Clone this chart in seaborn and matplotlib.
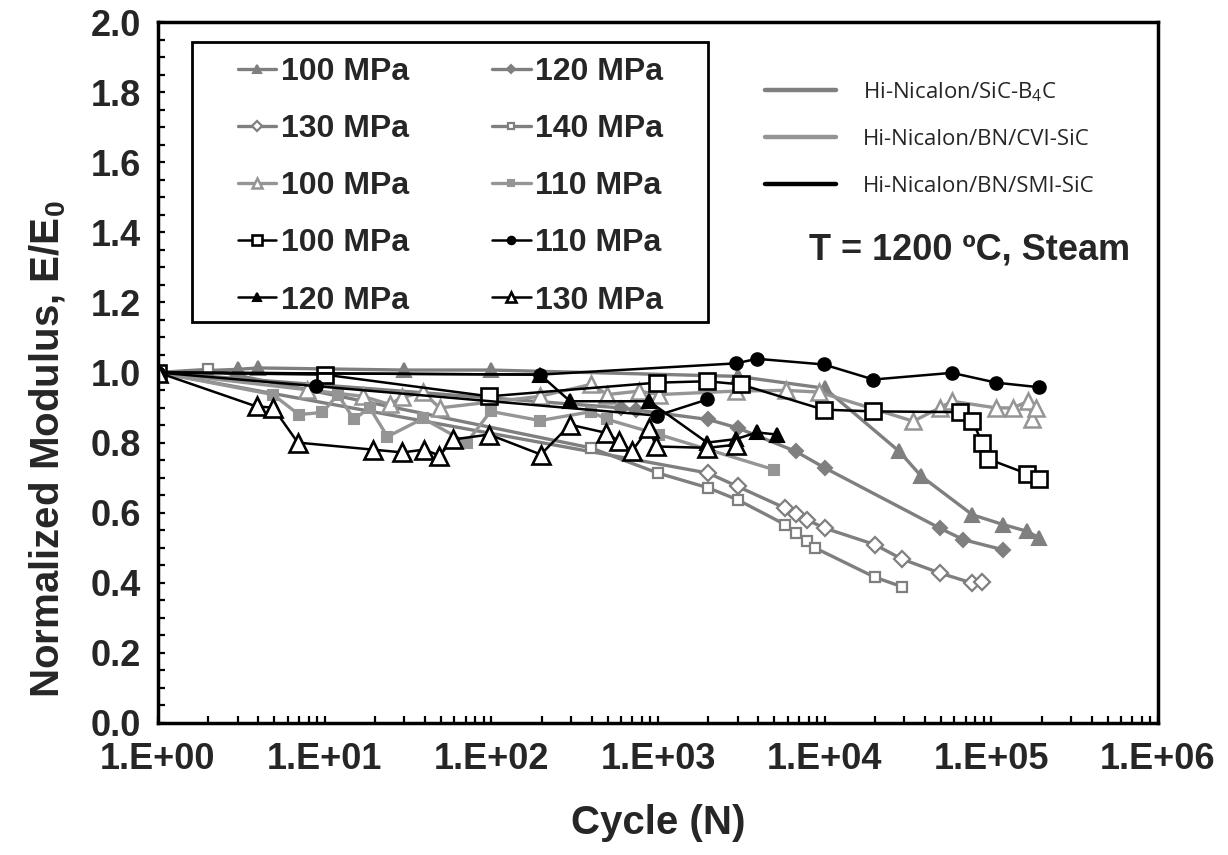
import numpy as np
import matplotlib
matplotlib.use("Agg")
import matplotlib.pyplot as plt
import matplotlib.ticker as mticker
from matplotlib.lines import Line2D
from matplotlib.patches import Rectangle
import seaborn as sns

sns.set_theme(style="white")
plt.rcParams["font.family"] = ["Liberation Sans", "DejaVu Sans"]
plt.rcParams["mathtext.fontset"] = "custom"
plt.rcParams["mathtext.rm"] = "Liberation Sans"
plt.rcParams["mathtext.bf"] = "Liberation Sans:bold"

# ---------------- data ----------------
# Hi-Nicalon/SiC-B4C
b4c_100_n = [1, 3, 4, 30, 100, 3000, 10000, 28000, 38000, 77000, 118000, 164000, 193000]
b4c_100_e = [1.0, 1.009, 1.013, 1.007, 1.007, 0.989, 0.955, 0.775, 0.704, 0.594, 0.566, 0.547, 0.528]

b4c_120_n = [1, 600, 735, 2000, 3000, 6700, 10000, 49000, 68000, 118000]
b4c_120_e = [1.0, 0.899, 0.893, 0.866, 0.842, 0.775, 0.728, 0.556, 0.523, 0.494]

b4c_130_n = [1, 2000, 3000, 5800, 6700, 7800, 10000, 20000, 29000, 49000, 77000, 88000]
b4c_130_e = [1.0, 0.713, 0.675, 0.613, 0.597, 0.58, 0.556, 0.509, 0.468, 0.428, 0.399, 0.401]

b4c_140_n = [1, 2, 395, 1000, 2000, 3000, 5800, 6700, 7800, 8800, 20000, 29000]
b4c_140_e = [1.0, 1.009, 0.785, 0.713, 0.671, 0.637, 0.566, 0.542, 0.518, 0.499, 0.416, 0.389]

# Hi-Nicalon/BN/CVI-SiC
cvi_100_n = [1, 7.8, 17, 24.5, 29, 39, 49, 196, 395, 497, 770, 1014, 2930, 5840, 9270,
             34000, 49000, 58000, 107000, 135000, 166000, 176000, 186000]
cvi_100_e = [1.0, 0.951, 0.932, 0.909, 0.929, 0.943, 0.899, 0.932, 0.966, 0.937, 0.947, 0.937, 0.947, 0.949, 0.944,
             0.861, 0.899, 0.918, 0.899, 0.899, 0.918, 0.868, 0.899]

cvi_110_n = [1, 4.9, 7, 9.7, 12, 15, 18.6, 23.8, 39, 71, 99, 196, 395, 497, 1014, 4950]
cvi_110_e = [1.0, 0.937, 0.88, 0.886, 0.937, 0.866, 0.9, 0.817, 0.869, 0.80, 0.889, 0.863, 0.888, 0.866, 0.823, 0.723]

# Hi-Nicalon/BN/SMI-SiC
smi_100_n = [1, 10, 97, 986, 1973, 3130, 9860, 19600, 65000, 77000, 88000, 96000, 164000, 193000]
smi_100_e = [1.0, 0.994, 0.932, 0.971, 0.975, 0.966, 0.894, 0.889, 0.887, 0.863, 0.799, 0.753, 0.711, 0.696]

smi_110_n = [1, 196, 2930, 3930, 9860, 19600, 58000, 107000, 193000]
smi_110_e = [1.0, 0.994, 1.026, 1.039, 1.023, 0.98, 0.999, 0.971, 0.958]
smi_110b_n = [1, 8.9, 986, 1973]
smi_110b_e = [1.0, 0.961, 0.877, 0.923]

smi_120_n = [1, 196, 297, 883, 1973, 2930, 3930, 5180]
smi_120_e = [1.0, 0.994, 0.918, 0.918, 0.80, 0.81, 0.829, 0.823]

smi_130_n = [1, 3.9, 4.9, 6.9, 19.4, 29.3, 39.6, 48.8, 59.2, 97, 198, 297, 486, 584, 696, 883, 973, 1973, 2930]
smi_130_e = [1.0, 0.903, 0.90, 0.80, 0.78, 0.772, 0.78, 0.763, 0.809, 0.823, 0.766, 0.851, 0.828, 0.804, 0.775,
             0.842, 0.789, 0.785, 0.794]

materials = ["Hi-Nicalon/SiC-B$_\\mathregular{4}$C", "Hi-Nicalon/BN/CVI-SiC", "Hi-Nicalon/BN/SMI-SiC"]

x_major = [1, 1e1, 1e2, 1e3, 1e4, 1e5, 1e6]
x_labels = ["1.E+00", "1.E+01", "1.E+02", "1.E+03", "1.E+04", "1.E+05", "1.E+06"]

GRAY1 = "#7f7f7f"
GRAY2 = "#959595"
BLACK = "#000000"

# ---------------- figure ----------------
fig = plt.figure(figsize=(12.28, 8.55), dpi=100)
ax = fig.add_axes([158 / 1228, 1 - 723 / 855, 1000 / 1228, 701 / 855])


def draw(n, e, color, marker, ms, filled, lw, mew, label):
    sns.lineplot(x=n, y=e, sort=False, estimator=None, ax=ax, color=color, linewidth=lw,
                 marker=marker, markersize=ms,
                 markerfacecolor=color if filled else "white",
                 markeredgecolor=color, markeredgewidth=mew)
    line = ax.lines[-1]
    line.set_label(label)
    return line


h_b100 = draw(b4c_100_n, b4c_100_e, GRAY1, "^", 10, True, 2.4, 1.5, "100 MPa")
h_b120 = draw(b4c_120_n, b4c_120_e, GRAY1, "D", 7.5, True, 2.4, 1.5, "120 MPa")
h_b130 = draw(b4c_130_n, b4c_130_e, GRAY1, "D", 8, False, 2.4, 1.6, "130 MPa")
h_b140 = draw(b4c_140_n, b4c_140_e, GRAY1, "s", 6.5, False, 2.4, 1.6, "140 MPa")
h_c100 = draw(cvi_100_n, cvi_100_e, GRAY2, "^", 11, False, 2.4, 1.8, "100 MPa")
h_c110 = draw(cvi_110_n, cvi_110_e, GRAY2, "s", 7.5, True, 2.4, 1.5, "110 MPa")
h_s100 = draw(smi_100_n, smi_100_e, BLACK, "s", 12, False, 1.8, 1.9, "100 MPa")
h_s110 = draw(smi_110_n, smi_110_e, BLACK, "o", 9, True, 1.8, 1.5, "110 MPa")
draw(smi_110b_n, smi_110b_e, BLACK, "o", 9, True, 1.8, 1.5, "_nolegend_")
h_s120 = draw(smi_120_n, smi_120_e, BLACK, "^", 10, True, 1.8, 1.5, "120 MPa")
h_s130 = draw(smi_130_n, smi_130_e, BLACK, "^", 13, False, 1.8, 1.9, "130 MPa")

# ---------------- axes ----------------
ax.set_xscale("log")
ax.set_xlim(1, 1e6)
ax.set_ylim(0, 2.0)
ax.xaxis.set_major_locator(mticker.FixedLocator(x_major))
ax.xaxis.set_major_formatter(mticker.FixedFormatter(x_labels))
minor_x = [m * 10 ** d for d in range(6) for m in range(2, 10)]
ax.xaxis.set_minor_locator(mticker.FixedLocator(minor_x))
ax.xaxis.set_minor_formatter(mticker.NullFormatter())
ax.yaxis.set_major_locator(mticker.MultipleLocator(0.2))
ax.yaxis.set_minor_locator(mticker.MultipleLocator(0.05))
ax.yaxis.set_major_formatter(mticker.FormatStrFormatter("%.1f"))

for s in ax.spines.values():
    s.set_color("black")
    s.set_linewidth(2.5)
ax.tick_params(which="both", direction="in", length=5, width=1.6, color="black",
               top=False, right=False, bottom=True, left=True)
ax.tick_params(axis="x", which="major", labelsize=26, pad=14)
ax.tick_params(axis="y", which="major", labelsize=26, pad=12)
for lab in ax.get_xticklabels() + ax.get_yticklabels():
    lab.set_fontweight("bold")

ax.set_xlabel("Cycle (N)", fontsize=29, fontweight="bold")
ax.set_ylabel("Normalized Modulus, E/E$_\\mathbf{0}$", fontsize=29, fontweight="bold")
ax.xaxis.set_label_coords(0.5, -0.115)
ax.yaxis.set_label_coords(-0.09, 0.39)

# ---------------- legends ----------------
ax.add_patch(Rectangle((0.034, 0.572), 0.516, 0.3995, transform=ax.transAxes,
                       facecolor="white", edgecolor="black", linewidth=2, zorder=4))

handles = [h_b100, h_b130, h_c100, h_s100, h_s120,
           h_b120, h_b140, h_c110, h_s110, h_s130]
leg1 = ax.legend(handles=handles, ncol=2, loc="upper left", bbox_to_anchor=(0.064, 0.973),
                 frameon=False, borderpad=0, prop={"weight": "bold", "size": 23},
                 handlelength=1.2, handletextpad=0.15, columnspacing=2.6,
                 labelspacing=0.85, markerscale=0.6)
leg1.set_zorder(5)
ax.add_artist(leg1)

mat_handles = [Line2D([], [], color=GRAY1, lw=3.2),
               Line2D([], [], color=GRAY2, lw=3.2),
               Line2D([], [], color=BLACK, lw=3.2)]
leg2 = ax.legend(mat_handles, materials, loc="upper left", bbox_to_anchor=(0.596, 0.933),
                 frameon=False, borderpad=0, prop={"family": "Open Sans", "size": 16},
                 handlelength=3.2, handletextpad=1.2, labelspacing=1.15)

ax.text(0.812, 0.675, "T = 1200 ºC, Steam", transform=ax.transAxes, ha="center", va="center",
        fontsize=26, fontweight="bold")

fig.savefig("out.png", dpi=100)
